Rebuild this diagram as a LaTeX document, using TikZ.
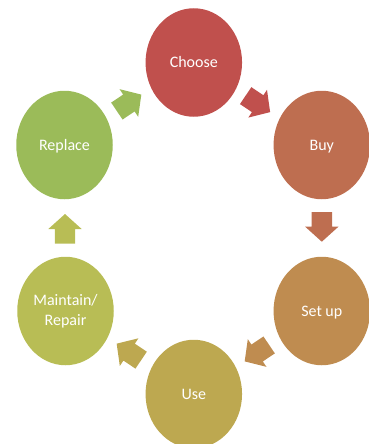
\documentclass[tikz,border=0pt]{standalone}
\usepackage{fontspec}
\setmainfont{Carlito}
\usetikzlibrary{shapes.geometric,shapes.arrows}
\definecolor{cChoose}{HTML}{C0504D}
\definecolor{cBuy}{HTML}{BE6E50}
\definecolor{cSetup}{HTML}{BF8C50}
\definecolor{cUse}{HTML}{BDA850}
\definecolor{cMaintain}{HTML}{B8BD55}
\definecolor{cReplace}{HTML}{9BBB59}
\tikzset{
  stage/.style={ellipse,fill=#1,text=white,inner sep=0pt,minimum width=96.5pt,minimum height=108.5pt,
    font=\fontsize{16pt}{20pt}\selectfont,align=center},
  oneline/.style={text height=14pt,text depth=3.4pt},
  flow/.style={single arrow,fill=#1,inner sep=0pt,text height=10pt,text depth=10pt,text width=0pt,
    minimum height=29.5pt,single arrow head extend=6.5pt,single arrow tip angle=96,anchor=tail},
}
\begin{document}
\begin{tikzpicture}[x=1pt,y=-1pt]
\useasboundingbox (0,0) rectangle (369,444);
\clip (0,0) rectangle (369,444);
\node[stage=cChoose,oneline] (choose) at (193.8,62.5) {Choose};
\node[stage=cBuy,oneline] (buy) at (321.8,145) {Buy};
\node[stage=cSetup,oneline] (setup) at (321.8,311) {Set up};
\node[stage=cUse,oneline] (use) at (193.8,394) {Use};
\node[stage=cMaintain] (maintain) at (65.5,311) {Maintain/\\Repair};
\node[stage=cReplace,oneline] (replace) at (64.5,145) {Replace};
\node[flow=cChoose,rotate=-34] (a1) at (245.5,95.5) {};
\node[flow=cBuy,rotate=-90] (a2) at (321.8,212) {};
\node[flow=cSetup,rotate=-146] (a3) at (269.3,344.8) {};
\node[flow=cUse,rotate=146] (a4) at (141.3,360.3) {};
\node[flow=cMaintain,rotate=90] (a5) at (65,243.7) {};
\node[flow=cReplace,rotate=34] (a6) at (116.7,111.2) {};
\end{tikzpicture}
\end{document}
